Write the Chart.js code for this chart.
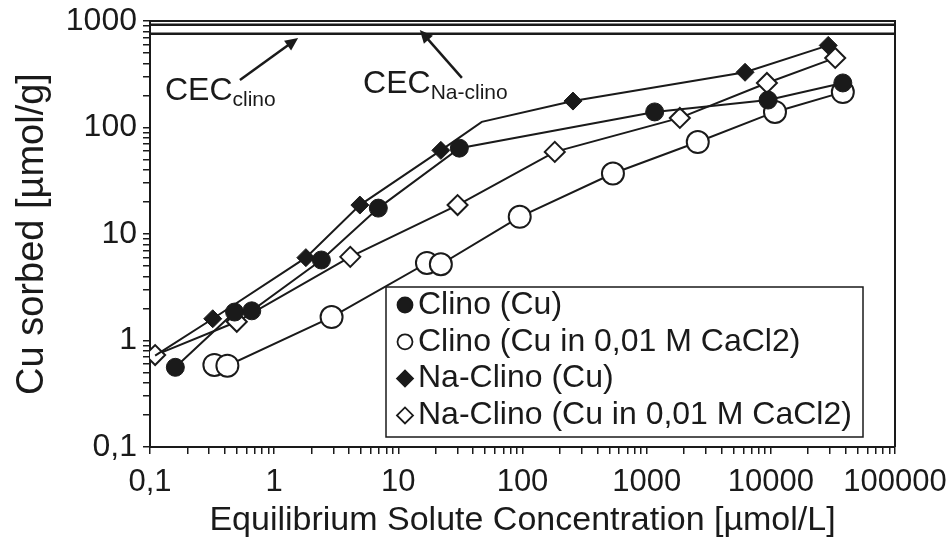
<!DOCTYPE html>
<html>
<head>
<meta charset="utf-8">
<script src="https://cdn.jsdelivr.net/npm/chart.js@4.4.1/dist/chart.umd.min.js"></script>
<style>
html, body { margin: 0; padding: 0; background: #fff; }
#wrap { width: 948px; height: 549px; position: relative; }
</style>
</head>
<body>
<div id="wrap"><canvas id="myChart"></canvas></div>
<script>
// series (log-log)
var seriesNames = ["Clino (Cu)", "Clino (Cu in 0,01 M CaCl2)", "Na-Clino (Cu)", "Na-Clino (Cu in 0,01 M CaCl2)"];

var clinoX = [0.16, 0.48, 0.66, 2.4, 6.9, 31, 1160, 9500, 38000];
var clinoY = [0.56, 1.85, 1.9, 5.7, 17.5, 64, 140, 181, 262];

var clinoCaX = [0.33, 0.42, 2.9, 17, 22, 95, 535, 2580, 10800, 38000];
var clinoCaY = [0.59, 0.58, 1.66, 5.35, 5.2, 14.5, 37, 73, 140, 215];

var naX = [0.11, 0.32, 1.8, 4.9, 22, 47, 255, 6200, 29000];
var naY = [0.72, 1.6, 6, 18.7, 61, 113, 177, 330, 590];
var naNoMarker = [0, 5]; // line passes through these without a visible marker

var naCaX = [0.11, 0.5, 4.1, 30, 182, 1850, 9300, 33000];
var naCaY = [0.73, 1.5, 6.1, 18.7, 59, 123, 262, 450];

var cecValues = [920, 760];
var cecNames = ["clino", "Na-clino"];

var xTickValues = [0.1, 1, 10, 100, 1000, 10000, 100000];
var xTickLabels = ["0,1", "1", "10", "100", "1000", "10000", "100000"];
var yTickValues = [0.1, 1, 10, 100, 1000];
var yTickLabels = ["0,1", "1", "10", "100", "1000"];

var INK = "#1a1a1a";
var FONT = "'Liberation Sans', Arial, sans-serif";

function pts(xs, ys) {
    return xs.map(function (x, i) { return { x: x, y: ys[i] }; });
}

// 1..9 x 10^n ticks between two powers of ten
function logTicks(min, max) {
    var out = [];
    for (var e = Math.round(Math.log10(min)); e < Math.round(Math.log10(max)); e++) {
        for (var m = 1; m < 10; m++) out.push({ value: m * Math.pow(10, e) });
    }
    out.push({ value: max });
    return out;
}

function labelFor(values, labels) {
    return function (v) {
        for (var i = 0; i < values.length; i++) {
            if (Math.abs(values[i] - v) / values[i] < 1e-6) return labels[i];
        }
        return "";
    };
}

var xMin = xTickValues[0], xMax = xTickValues[xTickValues.length - 1];
var yMin = yTickValues[0], yMax = yTickValues[yTickValues.length - 1];

var datasets = [{
    label: seriesNames[0],
    data: pts(clinoX, clinoY),
    showLine: true,
    borderColor: INK, borderWidth: 2,
    pointStyle: "circle", pointRadius: 9,
    pointBackgroundColor: INK, pointBorderColor: INK, pointBorderWidth: 1,
    order: 1
}, {
    label: seriesNames[1],
    data: pts(clinoCaX, clinoCaY),
    showLine: true,
    borderColor: INK, borderWidth: 2,
    pointStyle: "circle", pointRadius: 11,
    pointBackgroundColor: "#fff", pointBorderColor: INK, pointBorderWidth: 2,
    order: 4
}, {
    label: seriesNames[2],
    data: pts(naX, naY),
    showLine: true,
    borderColor: INK, borderWidth: 2,
    pointStyle: "rectRot",
    pointRadius: function (c) { return naNoMarker.indexOf(c.dataIndex) >= 0 ? 0 : 9; },
    pointBackgroundColor: INK, pointBorderColor: INK, pointBorderWidth: 1,
    order: 2
}, {
    label: seriesNames[3],
    data: pts(naCaX, naCaY),
    showLine: true,
    borderColor: INK, borderWidth: 2,
    pointStyle: "rectRot", pointRadius: 10,
    pointBackgroundColor: "#fff", pointBorderColor: INK, pointBorderWidth: 2,
    order: 3
}];

cecValues.forEach(function (v) {
    datasets.push({
        label: "CEC",
        data: [{ x: xMin, y: v }, { x: xMax, y: v }],
        showLine: true,
        borderColor: INK, borderWidth: 2.5,
        pointRadius: 0,
        order: 5
    });
});

function arrow(ctx, x1, y1, x2, y2) {
    var a = Math.atan2(y2 - y1, x2 - x1), L = 13, W = 6;
    ctx.beginPath();
    ctx.moveTo(x1, y1);
    ctx.lineTo(x2 - L * 0.7 * Math.cos(a), y2 - L * 0.7 * Math.sin(a));
    ctx.lineWidth = 2.5;
    ctx.stroke();
    ctx.beginPath();
    ctx.moveTo(x2, y2);
    ctx.lineTo(x2 - L * Math.cos(a) + W * Math.sin(a), y2 - L * Math.sin(a) - W * Math.cos(a));
    ctx.lineTo(x2 - L * Math.cos(a) - W * Math.sin(a), y2 - L * Math.sin(a) + W * Math.cos(a));
    ctx.closePath();
    ctx.fill();
}

function marker(ctx, style, filled, x, y, r) {
    ctx.beginPath();
    if (style === "circle") {
        ctx.arc(x, y, r, 0, Math.PI * 2);
    } else {
        ctx.moveTo(x - r, y); ctx.lineTo(x, y - r); ctx.lineTo(x + r, y); ctx.lineTo(x, y + r);
        ctx.closePath();
    }
    ctx.fillStyle = filled ? INK : "#fff";
    ctx.fill();
    ctx.lineWidth = 1.8;
    ctx.stroke();
}

// CEC labels + arrows, anchored in data coordinates
var cecNotes = [
    { text: [0.132, 181], tail: [0.53, 279], head: [1.56, 692] },
    { text: [5.2, 211], tail: [32.5, 292], head: [14.9, 822] }
];

var extras = {
    id: "extras",
    afterDraw: function (chart) {
        var ctx = chart.ctx, a = chart.chartArea;
        var xs = chart.scales.x, ys = chart.scales.y;
        ctx.save();
        ctx.strokeStyle = INK;
        ctx.fillStyle = INK;

        // top and right frame
        ctx.lineWidth = 2;
        ctx.beginPath();
        ctx.moveTo(a.left, a.top); ctx.lineTo(a.right, a.top); ctx.lineTo(a.right, a.bottom);
        ctx.stroke();

        cecNotes.forEach(function (n, i) {
            var tx = xs.getPixelForValue(n.text[0]), ty = ys.getPixelForValue(n.text[1]);
            ctx.font = "32px " + FONT;
            ctx.textAlign = "left";
            ctx.textBaseline = "alphabetic";
            ctx.fillText("CEC", tx, ty);
            var w = ctx.measureText("CEC").width;
            ctx.font = "21px " + FONT;
            ctx.fillText(cecNames[i], tx + w, ty + 6);
            arrow(ctx, xs.getPixelForValue(n.tail[0]), ys.getPixelForValue(n.tail[1]),
                xs.getPixelForValue(n.head[0]), ys.getPixelForValue(n.head[1]));
        });

        // legend box inside the plot
        var bx = a.left + 236, by = a.top + 266, bw = 477, bh = 150;
        ctx.fillStyle = "#fff";
        ctx.fillRect(bx, by, bw, bh);
        ctx.lineWidth = 1.5;
        ctx.strokeRect(bx, by, bw, bh);
        var styles = [["circle", true, 7.5], ["circle", false, 7.5], ["rectRot", true, 8], ["rectRot", false, 8]];
        ctx.font = "32px " + FONT;
        ctx.textBaseline = "middle";
        seriesNames.forEach(function (name, i) {
            var cy = by + 18 + i * 36.8;
            marker(ctx, styles[i][0], styles[i][1], bx + 19, cy, styles[i][2]);
            ctx.fillStyle = INK;
            ctx.fillText(name, bx + 32, cy);
        });
        ctx.restore();
    }
};

var ctx = document.getElementById("myChart");
var myChart = new Chart(ctx, {
    type: "scatter",
    data: { datasets: datasets },
    options: {
        responsive: true,
        maintainAspectRatio: false,
        animation: false,
        layout: { padding: { top: 21, right: 53, left: 0, bottom: 0 } },
        plugins: {
            legend: { display: false },
            tooltip: { enabled: false }
        },
        scales: {
            x: {
                type: "logarithmic",
                min: xMin, max: xMax,
                afterBuildTicks: function (s) { s.ticks = logTicks(xMin, xMax); },
                afterFit: function (s) {
                    s.height = 102;
                    s.paddingLeft = 0; s.paddingRight = 0;
                },
                ticks: {
                    autoSkip: false, maxRotation: 0,
                    color: INK, padding: 10,
                    font: { family: FONT, size: 31 },
                    callback: labelFor(xTickValues, xTickLabels)
                },
                grid: { drawOnChartArea: false, drawTicks: true, tickLength: 7, color: INK, lineWidth: 1.5 },
                border: { display: true, color: INK, width: 2 },
                title: {
                    display: true, text: "Equilibrium Solute Concentration [µmol/L]",
                    color: INK, font: { family: FONT, size: 34 },
                    padding: { top: 0, bottom: 8 }
                }
            },
            y: {
                type: "logarithmic",
                min: yMin, max: yMax,
                afterBuildTicks: function (s) { s.ticks = logTicks(yMin, yMax); },
                afterFit: function (s) {
                    s.width = 150;
                    s.paddingTop = 0; s.paddingBottom = 0;
                },
                ticks: {
                    autoSkip: false,
                    color: INK, padding: 6,
                    font: { family: FONT, size: 32 },
                    callback: labelFor(yTickValues, yTickLabels)
                },
                grid: { drawOnChartArea: false, drawTicks: true, tickLength: 7, color: INK, lineWidth: 1.5 },
                border: { display: true, color: INK, width: 2 },
                title: {
                    display: true, text: "Cu sorbed [µmol/g]",
                    color: INK, font: { family: FONT, size: 38 },
                    padding: { top: 10, bottom: 0 }
                }
            }
        }
    },
    plugins: [extras]
});
</script>
</body>
</html>
